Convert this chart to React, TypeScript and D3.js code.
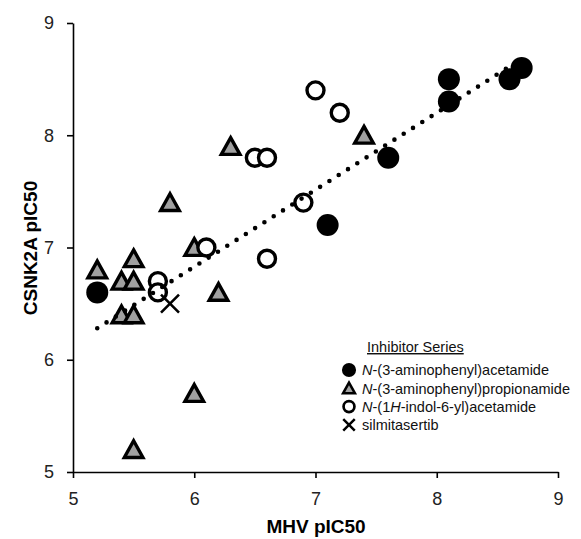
import React, { useEffect, useRef } from 'react';
import * as d3 from 'd3';

// series values
const acetamideX = [5.2, 7.1, 7.6, 8.1, 8.1, 8.6, 8.7];
const acetamideY = [6.6, 7.2, 7.8, 8.5, 8.3, 8.5, 8.6];
const propionamideX = [5.2, 5.5, 5.4, 5.5, 5.4, 5.5, 6.0, 6.2, 6.0, 5.5, 6.3, 5.8, 7.4];
const propionamideY = [6.8, 6.9, 6.7, 6.7, 6.4, 6.4, 7.0, 6.6, 5.7, 5.2, 7.9, 7.4, 8.0];
const indolX = [7.0, 7.2, 6.5, 6.6, 6.9, 6.1, 6.6, 5.7, 5.7];
const indolY = [8.4, 8.2, 7.8, 7.8, 7.4, 7.0, 6.9, 6.7, 6.6];
const silmiX = [5.8];
const silmiY = [6.5];
const trendX = [5.2, 8.7];
const trendY = [6.28, 8.68];

const xTicks = [5, 6, 7, 8, 9];
const yTicks = [5, 6, 7, 8, 9];
const seriesNames = [
	['N', '-(3-aminophenyl)acetamide'],
	['N', '-(3-aminophenyl)propionamide'],
	['N', '-(1', 'H', '-indol-6-yl)acetamide'],
	['silmitasertib'],
];

const W = 581;
const H = 539;
const FONT = 'Liberation Sans, Arial, sans-serif';

const zip = (xs: number[], ys: number[]) => xs.map((x, i) => ({ x, y: ys[i] }));

const triPath = (s: number) => `M0,${ -s * 0.95 }L${ s },${ s * 0.85 }L${ -s },${ s * 0.85 }Z`;
const crossPath = (s: number) => `M${ -s },${ -s }L${ s },${ s }M${ s },${ -s }L${ -s },${ s }`;

const drawMarker = (g: any, kind: number, big: boolean) => {
	const k = big ? 1 : 0.64;
	if (kind === 0) {
		g.append('circle').attr('r', 11 * k).attr('fill', '#000');
	} else if (kind === 1) {
		g.append('path').attr('d', triPath(9.3 * k))
			.attr('fill', '#a0a0a0').attr('stroke', '#000')
			.attr('stroke-width', big ? 3.4 : 2.5).attr('stroke-linejoin', 'miter');
	} else if (kind === 2) {
		g.append('circle').attr('r', 8.5 * k).attr('fill', '#fff')
			.attr('stroke', '#000').attr('stroke-width', big ? 3.4 : 2.7);
	} else {
		g.append('path').attr('d', crossPath(9 * k)).attr('fill', 'none')
			.attr('stroke', '#000').attr('stroke-width', big ? 2.6 : 2.5);
	}
};

const drawChart = (ref: any) => {
	const svg = d3.select(ref.current);
	svg.selectAll('*').remove();

	const x = d3.scaleLinear().domain([5, 9]).range([73, 558]);
	const y = d3.scaleLinear().domain([5, 9]).range([472, 23]);

	const xAxis = svg.append('g').attr('transform', `translate(0,${ y(5) })`)
		.call(d3.axisBottom(x).tickValues(xTicks).tickSize(6).tickSizeOuter(0).tickPadding(8)
			.tickFormat(d3.format('d')));
	const yAxis = svg.append('g').attr('transform', `translate(${ x(5) },0)`)
		.call(d3.axisLeft(y).tickValues(yTicks).tickSize(6).tickSizeOuter(0).tickPadding(13)
			.tickFormat(d3.format('d')));
	[xAxis, yAxis].forEach((a) => {
		a.selectAll('path, line').attr('stroke', '#000').attr('stroke-width', 1.6);
		a.selectAll('text').attr('font-family', FONT).attr('font-size', 18).attr('fill', '#222');
	});
	xAxis.selectAll('text').attr('dy', '0.71em').attr('y', 20);

	const series = [
		zip(acetamideX, acetamideY),
		zip(propionamideX, propionamideY),
		zip(indolX, indolY),
		zip(silmiX, silmiY),
	];
	series.forEach((pts, kind) => {
		pts.forEach((p) => {
			const g = svg.append('g').attr('transform', `translate(${ x(p.x) },${ y(p.y) })`);
			drawMarker(g, kind, true);
		});
	});

	// dotted trendline on top of the markers
	svg.append('path')
		.datum(zip(trendX, trendY))
		.attr('d', d3.line<any>().x((d) => x(d.x)).y((d) => y(d.y)))
		.attr('fill', 'none').attr('stroke', '#000').attr('stroke-width', 4.6)
		.attr('stroke-linecap', 'round').attr('stroke-dasharray', '0 11');

	// axis titles
	svg.append('text').attr('x', 316).attr('y', 533).attr('text-anchor', 'middle')
		.attr('font-family', FONT).attr('font-size', 19).attr('font-weight', 'bold')
		.text('MHV pIC50');
	svg.append('text').attr('transform', 'translate(37,248) rotate(-90)').attr('text-anchor', 'middle')
		.attr('font-family', FONT).attr('font-size', 19).attr('font-weight', 'bold')
		.text('CSNK2A pIC50');

	// legend
	const lg = svg.append('g');
	lg.append('text').attr('x', 367).attr('y', 352).attr('font-family', FONT).attr('font-size', 14.5)
		.attr('text-decoration', 'underline').attr('fill', '#111').text('Inhibitor Series');
	seriesNames.forEach((parts, i) => {
		const cy = 370 + i * 18.3;
		const g = lg.append('g').attr('transform', `translate(349,${ cy })`);
		drawMarker(g, i, false);
		const t = lg.append('text').attr('x', 362).attr('y', cy + 5.2)
			.attr('font-family', FONT).attr('font-size', 14.5).attr('fill', '#111');
		parts.forEach((s, j) => {
			const italic = parts.length > 1 && j % 2 === 0;
			t.append('tspan').attr('font-style', italic ? 'italic' : 'normal').text(s);
		});
	});
};

const App = () => {
	const ref = useRef(null);

	useEffect(() => drawChart(ref), []);

	return (
		<svg ref={ ref } width={ W } height={ H }
			style={ { position: 'absolute', left: 0, top: 0, background: '#fff' } }/>
	);
};

export default App;
